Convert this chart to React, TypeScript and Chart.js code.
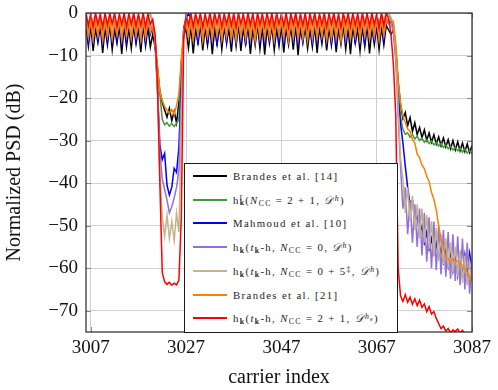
import React, { useEffect, useRef } from 'react';
import { Chart, registerables } from 'chart.js';

Chart.register(...registerables);

// x grid of the PSD samples: carrier index, half-carrier resolution
const carrierStart = 3006;
const carrierStep = 0.5;
const xMin = 3006;
const xMax = 3087;
const yMin = -75;
const yMax = 0;
const xTickValues = [3007, 3027, 3047, 3067, 3087];
const yTickValues = [0, -10, -20, -30, -40, -50, -60, -70];

// segments per series: left band (28) | edge (4) | notch (8) | edge (3) | mid band (85) | edge (4) | stopband (31)
const brandes14 = [
  -3.2, -7.8, -2.8, -8.9, -3.6, -6.9, -3.0, -9.4, -3.4, -7.5,
  -2.7, -8.6, -3.8, -7.1, -3.1, -9.6, -2.9, -7.9, -3.5, -8.3,
  -3.0, -7.2, -3.7, -9.2, -2.8, -7.7, -3.3, -8.0,
  -5.0, -8.0, -13.0, -18.5,
  -21.0, -22.8, -24.5, -22.4, -25.3, -23.1, -25.8, -21.0,
  -12.0, -5.5, -3.5,
  -8.2, -3.1, -9.5, -3.6, -7.0, -2.8, -8.8, -3.4, -7.6, -3.0,
  -9.7, -3.7, -7.3, -2.9, -8.5, -3.3, -6.9, -3.8, -9.1, -3.0,
  -7.8, -2.7, -8.9, -3.5, -7.2, -3.1, -9.6, -3.6, -7.5, -2.8,
  -8.4, -3.2, -9.8, -3.4, -7.1, -3.0, -8.7, -3.7, -7.7, -2.9,
  -9.3, -3.5, -7.4, -3.1, -8.6, -2.7, -9.9, -3.6, -7.0, -3.2,
  -8.3, -3.8, -7.9, -3.0, -9.4, -3.3, -7.2, -2.8, -8.8, -3.5,
  -7.6, -3.1, -9.2, -3.6, -7.3, -2.9, -8.5, -3.4, -9.7, -3.0,
  -7.1, -3.7, -8.9, -3.2, -7.8, -2.8, -9.5, -3.5, -7.4, -3.1,
  -8.6, -3.3, -7.5, -2.9, -4.0,
  -5.0, -4.0, -8.5, -16.0,
  -21.5, -24.8, -23.4, -26.5, -24.6, -27.8, -25.8, -28.6, -26.9, -29.3,
  -27.5, -29.9, -28.2, -30.4, -28.6, -30.8, -29.1, -31.2, -29.4, -31.5,
  -29.8, -31.9, -30.0, -32.2, -30.3, -32.4, -30.6, -32.6, -30.8, -32.8,
  -31.2,
];

const hkrNcc21 = [
  -1.5, -5.2, -1.2, -5.8, -1.7, -4.8, -1.3, -5.5, -1.9, -5.0,
  -1.1, -5.6, -1.6, -4.7, -1.4, -5.9, -1.8, -5.1, -1.2, -5.4,
  -1.5, -4.9, -1.3, -5.7, -1.0, -4.0, -0.6, -0.3,
  -2.5, -6.5, -13.0, -19.0,
  -25.0, -26.3, -25.8, -26.6, -26.0, -26.7, -25.9, -25.0,
  -12.0, -4.8, -2.0,
  -5.4, -1.3, -5.9, -1.6, -4.8, -1.1, -5.7, -1.8, -5.0, -1.4,
  -5.5, -1.2, -4.9, -1.7, -5.8, -1.5, -5.1, -1.0, -5.6, -1.9,
  -4.7, -1.3, -5.3, -1.6, -5.9, -1.2, -5.0, -1.8, -5.4, -1.4,
  -4.8, -1.1, -5.7, -1.5, -5.2, -1.7, -4.9, -1.3, -5.6, -1.9,
  -5.1, -1.2, -5.8, -1.6, -4.7, -1.4, -5.5, -1.0, -5.3, -1.8,
  -5.9, -1.3, -4.8, -1.5, -5.4, -1.7, -5.0, -1.1, -5.7, -1.6,
  -4.9, -1.4, -5.2, -1.9, -5.6, -1.2, -4.8, -1.5, -5.8, -1.3,
  -5.1, -1.7, -5.5, -1.0, -4.9, -1.4, -5.3, -1.2, -4.6, -0.9,
  -4.2, -0.6, -3.5, -0.3, 0.0,
  -1.5, -3.0, -8.5, -17.0,
  -24.5, -27.3, -28.5, -28.2, -29.2, -28.6, -29.6, -29.0, -30.0, -29.4,
  -30.4, -29.8, -30.7, -30.1, -31.0, -30.4, -31.3, -30.7, -31.6, -31.0,
  -31.9, -31.3, -32.2, -31.5, -32.4, -31.8, -32.7, -32.0, -32.9, -32.3,
  -33.1,
];

const mahmoud10 = [
  -1.4, -6.8, -1.1, -7.3, -1.6, -6.2, -1.2, -7.6, -1.5, -6.5,
  -1.0, -7.1, -1.7, -6.3, -1.3, -7.7, -1.5, -6.6, -1.1, -7.0,
  -1.6, -6.4, -1.2, -7.4, -1.4, -6.7, -1.3, -5.0,
  -3.0, -7.0, -18.0, -31.0,
  -34.5, -33.0, -40.5, -42.8, -41.0, -36.5, -37.5, -31.5,
  -16.0, -3.5, -1.2,
  -0.2, -1.0, -6.9, -1.3, -7.5, -1.6, -6.1, -1.2, -7.2, -1.4,
  -6.6, -1.1, -7.8, -1.5, -6.3, -1.7, -7.0, -1.2, -6.8, -1.4,
  -7.4, -1.0, -6.2, -1.6, -7.6, -1.3, -6.5, -1.5, -7.1, -1.1,
  -6.4, -1.7, -7.7, -1.2, -6.0, -1.4, -7.3, -1.6, -6.7, -1.0,
  -7.5, -1.3, -6.2, -1.5, -6.9, -1.1, -7.8, -1.7, -6.4, -1.2,
  -7.0, -1.4, -6.6, -1.6, -7.4, -1.0, -6.1, -1.3, -7.2, -1.5,
  -6.8, -1.2, -7.6, -1.7, -6.3, -1.1, -7.0, -1.4, -6.5, -1.6,
  -7.3, -1.0, -6.7, -1.3, -7.7, -1.5, -6.2, -1.2, -6.9, -1.4,
  -7.1, -1.1, -6.4, -1.6, -2.5,
  -2.0, -4.0, -10.0, -20.0,
  -26.0, -30.5, -36.0, -41.0, -45.0, -44.0, -49.0, -47.5, -52.0, -50.0,
  -54.0, -51.5, -55.5, -53.0, -56.5, -54.0, -57.5, -55.0, -58.5, -55.5,
  -59.5, -56.0, -60.5, -56.5, -61.5, -57.0, -62.0, -57.0, -62.5, -56.5,
  -60.0,
];

const hkNcc0 = [
  -1.6, -5.5, -1.3, -6.0, -1.8, -5.1, -1.4, -5.8, -1.7, -5.3,
  -1.2, -5.9, -1.9, -5.0, -1.5, -6.1, -1.6, -5.4, -1.3, -5.7,
  -1.8, -5.2, -1.4, -6.0, -1.5, -5.6, -1.2, -4.0,
  -2.5, -6.5, -17.0, -33.0,
  -39.0, -41.5, -44.0, -47.0, -45.5, -43.5, -41.0, -37.0,
  -20.0, -4.0, -1.8,
  -5.6, -1.4, -6.0, -1.7, -5.2, -1.3, -5.9, -1.8, -5.4, -1.5,
  -6.1, -1.2, -5.1, -1.9, -5.7, -1.6, -5.3, -1.4, -6.0, -1.7,
  -5.5, -1.3, -5.8, -1.8, -5.0, -1.5, -6.2, -1.2, -5.4, -1.6,
  -5.9, -1.9, -5.2, -1.4, -5.7, -1.7, -6.1, -1.3, -5.3, -1.5,
  -5.8, -1.2, -5.5, -1.8, -6.0, -1.6, -5.1, -1.4, -5.9, -1.7,
  -5.4, -1.3, -6.2, -1.9, -5.6, -1.5, -5.2, -1.2, -5.8, -1.6,
  -6.0, -1.4, -5.3, -1.7, -5.7, -1.3, -6.1, -1.8, -5.5, -1.5,
  -5.0, -1.2, -5.9, -1.6, -5.4, -1.4, -6.0, -1.7, -5.2, -1.3,
  -5.6, -1.5, -5.1, -1.2, -1.8,
  -2.0, -4.5, -11.0, -24.0,
  -36.0, -46.0, -41.0, -52.0, -44.0, -54.0, -45.0, -55.0, -46.0, -57.0,
  -47.0, -58.5, -48.0, -60.0, -49.0, -60.5, -50.0, -61.5, -51.0, -62.0,
  -51.5, -62.5, -52.0, -63.0, -52.5, -64.0, -53.0, -65.0, -54.0, -66.0,
  -58.0,
];

const hkNcc05 = [
  -1.0, -4.6, -0.7, -5.0, -1.3, -4.2, -0.8, -4.9, -1.1, -4.4,
  -0.6, -4.8, -1.4, -4.1, -0.9, -5.1, -1.2, -4.5, -0.7, -4.7,
  -1.0, -4.3, -0.8, -4.9, -0.5, -3.5, -0.2, -0.1,
  -2.0, -6.0, -18.0, -38.0,
  -48.0, -52.5, -47.5, -53.0, -49.0, -53.5, -47.0, -51.5,
  -25.0, -5.0, -1.2,
  -4.7, -0.9, -5.1, -1.2, -4.3, -0.7, -4.9, -1.4, -4.5, -1.0,
  -5.0, -0.6, -4.2, -1.3, -4.8, -1.1, -4.4, -0.8, -5.1, -1.2,
  -4.6, -0.7, -4.9, -1.5, -4.1, -1.0, -5.2, -0.8, -4.5, -1.3,
  -4.8, -0.6, -4.3, -1.1, -4.7, -0.9, -5.0, -1.4, -4.4, -0.7,
  -4.9, -1.2, -4.6, -1.0, -5.1, -0.8, -4.2, -1.3, -4.8, -0.6,
  -4.5, -1.1, -5.2, -0.9, -4.7, -1.4, -4.3, -0.7, -4.9, -1.0,
  -5.0, -1.2, -4.4, -0.8, -4.6, -1.3, -5.1, -0.9, -4.5, -1.1,
  -4.1, -0.7, -4.8, -1.0, -4.3, -0.6, -4.0, -0.5, -3.2, -0.3,
  -2.5, -0.2, -1.5, -0.1, 0.0,
  -1.0, -2.5, -9.0, -22.0,
  -34.0, -39.0, -47.0, -41.0, -49.0, -43.0, -51.0, -45.0, -53.0, -46.0,
  -54.0, -47.5, -55.5, -49.0, -57.0, -50.5, -58.0, -52.0, -59.0, -53.0,
  -60.0, -54.0, -61.0, -55.0, -62.0, -56.0, -63.0, -57.0, -64.0, -58.5,
  -63.0,
];

const brandes21 = [
  -1.8, -5.6, -1.5, -6.1, -2.0, -5.2, -1.6, -6.4, -1.9, -5.5,
  -1.4, -5.9, -2.2, -5.0, -1.7, -6.2, -1.5, -5.4, -2.1, -6.0,
  -1.6, -5.3, -1.9, -6.3, -1.5, -5.7, -2.0, -4.5,
  -3.0, -6.6, -12.5, -18.3,
  -20.5, -22.0, -22.8, -23.5, -22.7, -23.8, -21.8, -19.0,
  -10.6, -4.5, -2.2,
  -5.8, -1.6, -6.2, -1.9, -5.1, -1.4, -6.5, -2.1, -5.5, -1.7,
  -6.0, -1.5, -5.3, -2.2, -6.3, -1.8, -5.6, -1.4, -5.9, -2.0,
  -6.4, -1.6, -5.2, -1.9, -6.1, -1.5, -5.7, -2.2, -6.5, -1.7,
  -5.4, -1.4, -6.0, -2.0, -5.5, -1.6, -6.3, -1.8, -5.1, -1.5,
  -5.8, -2.1, -6.4, -1.7, -5.3, -1.4, -6.2, -1.9, -5.6, -1.6,
  -6.5, -2.0, -5.2, -1.5, -5.9, -1.8, -5.4, -1.4, -6.3, -2.2,
  -5.7, -1.6, -6.0, -1.9, -6.4, -1.5, -5.1, -1.7, -6.1, -2.0,
  -5.5, -1.4, -6.2, -1.8, -5.3, -1.6, -5.9, -2.1, -5.6, -1.5,
  -6.3, -1.7, -5.2, -1.4, -2.4,
  -2.5, -2.0, -7.0, -16.0,
  -21.0, -24.2, -25.8, -27.3, -27.8, -29.8, -30.6, -33.2, -34.0, -35.8,
  -36.6, -38.4, -39.6, -42.2, -43.8, -46.3, -50.0, -53.2, -55.3, -57.6,
  -57.8, -58.4, -57.7, -58.3, -58.3, -59.2, -59.3, -60.2, -60.8, -62.2,
  -63.0,
];

const hkNcc21He = [
  0.0, -3.0, -0.1, -3.3, 0.0, -2.7, -0.2, -3.4, 0.0, -2.9,
  -0.1, -2.6, 0.0, -3.2, -0.2, -2.8, 0.0, -3.3, -0.1, -2.7,
  0.0, -3.1, -0.2, -2.9, 0.0, -3.2, -0.3, -2.6,
  -1.5, -5.0, -17.0, -40.0,
  -61.0, -63.2, -63.8, -63.3, -64.0, -63.5, -63.9, -62.8,
  -48.0, -6.0, -0.5,
  -2.9, 0.0, -3.2, -0.1, -2.6, 0.0, -3.4, -0.2, -2.8, 0.0,
  -3.1, -0.1, -2.5, 0.0, -3.3, -0.2, -2.7, 0.0, -3.0, -0.1,
  -3.4, 0.0, -2.6, -0.2, -3.2, 0.0, -2.9, -0.1, -3.5, 0.0,
  -2.7, -0.2, -3.1, 0.0, -2.8, -0.1, -3.3, 0.0, -2.6, -0.2,
  -3.0, 0.0, -3.4, -0.1, -2.7, 0.0, -3.2, -0.2, -2.9, 0.0,
  -3.5, -0.1, -2.6, 0.0, -3.1, -0.2, -2.8, 0.0, -3.3, -0.1,
  -2.7, 0.0, -3.0, -0.2, -3.4, 0.0, -2.6, -0.1, -3.2, 0.0,
  -2.9, -0.2, -3.3, 0.0, -2.7, -0.1, -3.1, 0.0, -2.8, -0.2,
  -3.4, 0.0, -2.9, -0.1, -1.2,
  -5.0, -12.0, -24.0, -60.0,
  -66.5, -67.8, -66.2, -68.0, -66.8, -68.5, -67.2, -68.8, -67.5, -69.2,
  -68.4, -70.2, -69.0, -70.8, -70.2, -71.8, -73.0, -74.2, -73.6, -74.8,
  -74.2, -75.2, -74.5, -74.9, -74.3, -75.3, -74.6, -75.5, -75.8, -76.0,
  -76.2,
];

const seriesColors = ['#000000', '#42983a', '#0000ff', '#9370db', '#c4b48a', '#ff8000', '#ff0000'];
const seriesValues = [brandes14, hkrNcc21, mahmoud10, hkNcc0, hkNcc05, brandes21, hkNcc21He];
const seriesNames = [
  'Brandes et al. [14]',
  'h_k^r(N_CC = 2 + 1, D^h)',
  'Mahmoud et al. [10]',
  'h_k(t_k-h, N_CC = 0, D^h)',
  'h_k(t_k-h, N_CC = 0 + 5‡, D^h)',
  'Brandes et al. [21]',
  'h_k(t_k-h, N_CC = 2 + 1, D^h_e)',
];

const FONT = "'Liberation Serif', 'Times New Roman', serif";

const subStyle: React.CSSProperties = { fontSize: '0.72em', verticalAlign: '-0.3em', lineHeight: 0 };
const supStyle: React.CSSProperties = { fontSize: '0.72em', verticalAlign: '0.45em', lineHeight: 0 };
const calD = <span style={{ fontFamily: "'DejaVu Sans', 'Noto Sans', serif", fontStyle: 'italic' }}>𝒟</span>;
const Ncc = (
  <>
    <i>N</i>
    <span style={subStyle}>CC</span>
  </>
);
const hk = (
  <>
    h<span style={{ ...subStyle, fontWeight: 700 }}>k</span>
  </>
);
const tkh = (
  <>
    <i>t</i>
    <span style={{ ...subStyle, fontWeight: 700 }}>k</span>-h
  </>
);

const legendLabels: React.ReactNode[] = [
  <>Brandes et al. [14]</>,
  <>
    h
    <span style={{ position: 'relative', display: 'inline-block', width: '0.5em', height: '1em', lineHeight: 1 }}>
      <span style={{ position: 'absolute', left: 0, top: '-0.05em', fontSize: '0.72em' }}>r</span>
      <span style={{ position: 'absolute', left: 0, top: '0.72em', fontSize: '0.72em', fontWeight: 700 }}>k</span>
    </span>
    ({Ncc} = 2 + 1, {calD}
    <span style={supStyle}>
      <i>h</i>
    </span>
    )
  </>,
  <>Mahmoud et al. [10]</>,
  <>
    {hk}({tkh}, {Ncc} = 0, {calD}
    <span style={supStyle}>
      <i>h</i>
    </span>
    )
  </>,
  <>
    {hk}({tkh}, {Ncc} = 0 + 5<span style={supStyle}>‡</span>, {calD}
    <span style={supStyle}>
      <i>h</i>
    </span>
    )
  </>,
  <>Brandes et al. [21]</>,
  <>
    {hk}({tkh}, {Ncc} = 2 + 1, {calD}
    <span style={supStyle}>
      <i>h</i>
      <span style={{ fontSize: '0.75em', verticalAlign: '-0.3em' }}>e</span>
    </span>
    )
  </>,
];

const legendRowCenters = [12, 36, 59, 83, 107, 131, 154];

const framePlugin = {
  id: 'frame',
  afterDraw(chart: any) {
    const { ctx, chartArea, scales } = chart;
    const { left, right, top, bottom } = chartArea;
    ctx.save();
    ctx.strokeStyle = '#8a8a8a';
    ctx.lineWidth = 1;
    const tl = 5;
    ctx.beginPath();
    xTickValues.forEach((v) => {
      const px = Math.round(scales.x.getPixelForValue(v)) + 0.5;
      ctx.moveTo(px, bottom);
      ctx.lineTo(px, bottom - tl);
      ctx.moveTo(px, top);
      ctx.lineTo(px, top + tl);
    });
    yTickValues.forEach((v) => {
      const py = Math.round(scales.y.getPixelForValue(v)) + 0.5;
      ctx.moveTo(left, py);
      ctx.lineTo(left + tl, py);
      ctx.moveTo(right, py);
      ctx.lineTo(right - tl, py);
    });
    ctx.stroke();
    ctx.strokeStyle = '#262626';
    ctx.lineWidth = 1.2;
    ctx.strokeRect(left, top, right - left, bottom - top);
    ctx.restore();
  },
};

export default function App() {
  const canvasRef = useRef<HTMLCanvasElement | null>(null);

  useEffect(() => {
    if (!canvasRef.current) return;
    const datasets = seriesValues.map((vals, si) => ({
      label: seriesNames[si],
      data: vals.map((v, i) => ({ x: carrierStart + i * carrierStep, y: v })),
      borderColor: seriesColors[si],
      backgroundColor: seriesColors[si],
      borderWidth: 1.5,
      pointRadius: 0,
      tension: 0,
      fill: false,
      clip: 0,
      order: seriesValues.length - 1 - si,
    }));
    const chart = new Chart(canvasRef.current, {
      type: 'line',
      data: { datasets },
      options: {
        animation: false,
        responsive: false,
        devicePixelRatio: 1,
        layout: { padding: { left: 0, top: 13, right: 26, bottom: 0 } },
        plugins: { legend: { display: false }, tooltip: { enabled: false } },
        scales: {
          x: {
            type: 'linear',
            min: xMin,
            max: xMax,
            afterBuildTicks: (scale: any) => {
              scale.ticks = xTickValues.map((value) => ({ value }));
            },
            afterFit: (scale: any) => {
              scale.height = 58;
              scale.paddingLeft = 0;
              scale.paddingRight = 0;
            },
            grid: { color: '#d0d0d0', lineWidth: 1, drawTicks: false },
            border: { display: false },
            ticks: {
              padding: 5,
              color: '#111',
              font: { family: FONT, size: 19 },
              maxRotation: 0,
              callback: (v: any) => String(v),
            },
            title: {
              display: true,
              text: 'carrier index',
              color: '#111',
              font: { family: FONT, size: 20 },
              padding: { top: 0, bottom: 0 },
            },
          },
          y: {
            type: 'linear',
            min: yMin,
            max: yMax,
            afterBuildTicks: (scale: any) => {
              scale.ticks = yTickValues.map((value) => ({ value }));
            },
            afterFit: (scale: any) => {
              scale.width = 86;
              scale.paddingTop = 0;
              scale.paddingBottom = 0;
            },
            grid: { color: '#d0d0d0', lineWidth: 1, drawTicks: false },
            border: { display: false },
            ticks: {
              padding: 8,
              color: '#111',
              font: { family: FONT, size: 19 },
              callback: (v: any) => (v < 0 ? '\u2212' + Math.abs(v) : String(v)),
            },
            title: {
              display: true,
              text: 'Normalized PSD (dB)',
              color: '#111',
              font: { family: FONT, size: 20 },
              padding: { top: 3, bottom: 0 },
            },
          },
        },
      },
      plugins: [framePlugin],
    });
    return () => chart.destroy();
  }, []);

  return (
    <div style={{ position: 'fixed', left: 0, top: 0, width: 498, height: 390, background: '#fff' }}>
      <canvas ref={canvasRef} width={498} height={390} style={{ display: 'block', width: 498, height: 390 }} />
      <div
        style={{
          position: 'absolute',
          left: 184,
          top: 163,
          width: 214,
          height: 170,
          boxSizing: 'border-box',
          border: '1.2px solid #1a1a1a',
          background: '#fff',
          fontFamily: FONT,
          fontSize: 10.8,
          letterSpacing: 1.35,
          color: '#222',
        }}
      >
        {legendLabels.map((lab, i) => (
          <div key={i} style={{ position: 'absolute', left: 0, top: legendRowCenters[i] - 9, height: 18, width: '100%' }}>
            <div style={{ position: 'absolute', left: 8, top: 8, width: 34, height: 2, background: seriesColors[i] }} />
            <div style={{ position: 'absolute', left: 48, top: 0, lineHeight: '18px', whiteSpace: 'nowrap' }}>{lab}</div>
          </div>
        ))}
      </div>
    </div>
  );
}
